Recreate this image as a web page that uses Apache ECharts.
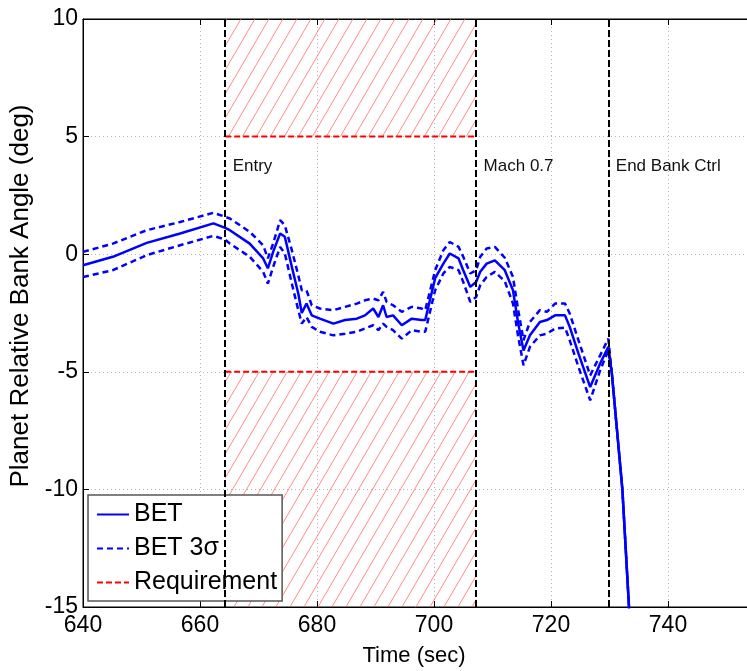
<!DOCTYPE html>
<html>
<head>
<meta charset="utf-8">
<script src="https://cdn.jsdelivr.net/npm/echarts@6/dist/echarts.min.js"></script>
<style>
html,body{margin:0;padding:0;background:#fff;}
#chart{width:747px;height:671px;}
</style>
</head>
<body>
<div id="chart"></div>
<script>
// ---- data ----
var times = [640, 645.1, 650.9, 656.6, 662.3, 664.3, 665.1, 668.5, 670.8, 671.6, 672.5, 673.7, 674.5, 675.7, 676.8, 677.4, 678.2, 679.1, 680.5, 682.8, 684.8, 686.8, 688.2, 689.6, 690.5, 691.3, 691.9, 693.0, 694.5, 696.2, 697.9, 698.5, 700.2, 701.6, 702.7, 704.2, 705.0, 706.2, 707.2, 707.9, 709.0, 710.4, 712.1, 713.5, 714.4, 715.3, 716.4, 718.1, 719.3, 720.7, 722.4, 723.2, 724.7, 726.7, 728.4, 729.8, 730.4, 732.2, 733.4];
var betMean = [-0.47, -0.11, 0.48, 0.88, 1.31, 1.12, 1.02, 0.45, -0.18, -0.6, 0.1, 0.88, 0.74, -0.54, -1.67, -2.5, -2.1, -2.6, -2.74, -2.95, -2.8, -2.74, -2.6, -2.31, -2.67, -2.17, -2.67, -2.6, -3.02, -2.74, -2.8, -2.8, -1.02, -0.4, 0.03, -0.18, -0.68, -1.39, -1.18, -0.75, -0.4, -0.26, -0.68, -1.53, -2.95, -4.09, -3.45, -2.88, -2.8, -2.6, -2.6, -3.09, -4.23, -5.65, -4.65, -3.94, -5.06, -10, -15.3];
var betUpper = [0.1, 0.45, 1.02, 1.37, 1.76, 1.59, 1.52, 0.95, 0.38, -0.18, 0.45, 1.45, 1.23, 0.17, -0.9, -1.53, -1.53, -2.17, -2.31, -2.38, -2.24, -2.1, -1.96, -1.89, -1.96, -1.6, -2.03, -2.17, -2.45, -2.24, -2.31, -2.38, -0.68, 0.17, 0.52, 0.31, -0.11, -0.82, -0.68, -0.11, 0.24, 0.31, -0.15, -0.97, -2.38, -3.66, -2.88, -2.38, -2.45, -2.1, -2.1, -2.52, -3.66, -5.15, -4.3, -3.59, -5.06, -10, -15.3];
var betLower = [-0.97, -0.68, -0.04, 0.38, 0.78, 0.62, 0.45, -0.11, -0.75, -1.25, -0.54, 0.31, 0.03, -1.25, -2.38, -2.95, -2.67, -3.09, -3.3, -3.45, -3.38, -3.3, -3.16, -3.02, -3.23, -2.95, -3.09, -3.23, -3.59, -3.23, -3.3, -3.3, -1.53, -0.82, -0.54, -0.68, -1.18, -2.03, -1.82, -1.32, -0.97, -0.75, -1.15, -2.1, -3.52, -4.72, -3.94, -3.45, -3.38, -3.16, -3.12, -3.66, -4.8, -6.21, -4.94, -4.09, -5.06, -10, -15.3];
var reqStart = 664.3, reqEnd = 707.2;
var reqUpper = 5, reqLower = -5;
var eventTimes = [664.3, 707.2, 729.8];
var eventNames = ['Entry', 'Mach 0.7', 'End Bank Ctrl'];
var eventLabelY = 3.75;
var xMin = 640, xMax = 760, xStep = 20;
var yMin = -15, yMax = 10, yStep = 5;

function zip(xs, ys) { return xs.map(function (x, i) { return [x, ys[i]]; }); }

// hatch pattern
var pat = document.createElement('canvas');
pat.width = 14; pat.height = 24;
var pc = pat.getContext('2d');
pc.strokeStyle = 'rgba(255,100,100,0.75)';
pc.lineWidth = 1;
[-14, 0, 14].forEach(function (o) {
  pc.beginPath(); pc.moveTo(o, 24); pc.lineTo(o + 14, 0); pc.stroke();
});

var FONT = 'Liberation Sans, Arial, Helvetica, sans-serif';
var chart = echarts.init(document.getElementById('chart'), null, {renderer: 'canvas'});

var splitDotted = {show: true, lineStyle: {color: '#b5b5b5', width: 1, type: [1, 3]}};

var option = {
  animation: false,
  backgroundColor: '#fff',
  grid: {left: 83, top: 19, right: -38, bottom: 64, outerBoundsMode: 'none', containLabel: false,
         show: true, borderColor: '#000', borderWidth: 1, backgroundColor: 'transparent'},
  legend: {
    data: ['BET', 'BET 3σ', 'Requirement'],
    orient: 'vertical', left: 88, top: 495,
    backgroundColor: '#fff', borderColor: '#555', borderWidth: 1.5, borderRadius: 0,
    padding: [7, 5, 6, 8], itemGap: 9, itemWidth: 32, itemHeight: 14,
    textStyle: {fontFamily: FONT, fontSize: 25, color: '#000'},
    itemStyle: {color: 'rgba(0,0,0,0)', borderWidth: 0, opacity: 0},
    lineStyle: {width: 2}
  },
  xAxis: [{
    type: 'value', min: xMin, max: xMax, interval: xStep, position: 'bottom',
    name: 'Time (sec)', nameLocation: 'middle', nameGap: 38,
    nameTextStyle: {fontFamily: FONT, fontSize: 22, color: '#000', padding: [0, 40, 0, 0]},
    axisLine: {show: true, onZero: false, lineStyle: {color: '#000'}},
    axisTick: {show: true, inside: true, length: 6, lineStyle: {color: '#000'}},
    axisLabel: {fontFamily: FONT, fontSize: 23, color: '#000', margin: 7},
    splitLine: splitDotted
  }, {
    type: 'value', min: xMin, max: xMax, interval: xStep, position: 'top',
    axisLine: {show: true, onZero: false, lineStyle: {color: '#000'}},
    axisTick: {show: true, inside: true, length: 6, lineStyle: {color: '#000'}},
    axisLabel: {show: false}, splitLine: {show: false}
  }],
  yAxis: [{
    type: 'value', min: yMin, max: yMax, interval: yStep, position: 'left',
    name: 'Planet Relative Bank Angle (deg)', nameLocation: 'middle', nameGap: 42,
    nameTextStyle: {fontFamily: FONT, fontSize: 26, color: '#000', padding: [0, 0, 0, 34]},
    axisLine: {show: true, onZero: false, lineStyle: {color: '#000'}},
    axisTick: {show: true, inside: true, length: 6, lineStyle: {color: '#000'}},
    axisLabel: {fontFamily: FONT, fontSize: 23, color: '#000', margin: 5},
    splitLine: splitDotted
  }],
  series: [
    {
      name: 'Requirement', type: 'line', symbol: 'none', z: 2,
      data: [[reqStart, reqUpper], [reqEnd, reqUpper]],
      lineStyle: {color: '#ff0000', width: 2, type: [6, 3]},
      itemStyle: {color: '#ff0000'},
      markArea: {
        silent: true,
        itemStyle: {color: {image: pat, repeat: 'repeat'}},
        data: [
          [{xAxis: reqStart, yAxis: reqUpper}, {xAxis: reqEnd, yAxis: yMax}],
          [{xAxis: reqStart, yAxis: yMin}, {xAxis: reqEnd, yAxis: reqLower}]
        ]
      }
    },
    {
      name: 'Requirement', type: 'line', symbol: 'none', z: 2,
      data: [[reqStart, reqLower], [reqEnd, reqLower]],
      lineStyle: {color: '#ff0000', width: 2, type: [6, 3]},
      itemStyle: {color: '#ff0000'}
    },
    {
      name: 'BET 3σ', type: 'line', symbol: 'none', z: 3,
      data: zip(times, betUpper),
      lineStyle: {color: '#0000ff', width: 2.5, type: [6, 4]},
      itemStyle: {color: '#0000ff'}
    },
    {
      name: 'BET 3σ', type: 'line', symbol: 'none', z: 3,
      data: zip(times, betLower),
      lineStyle: {color: '#0000ff', width: 2.5, type: [6, 4]},
      itemStyle: {color: '#0000ff'}
    },
    {
      name: 'BET', type: 'line', symbol: 'none', z: 4,
      data: zip(times, betMean),
      lineStyle: {color: '#0000ff', width: 2.5},
      itemStyle: {color: '#0000ff'}
    },
    {
      name: 'events', type: 'line', symbol: 'none', z: 5, data: [],
      markLine: {
        silent: true, symbol: ['none', 'none'],
        label: {show: false},
        lineStyle: {color: '#000', width: 2, type: [7, 3]},
        data: eventTimes.map(function (t) { return {xAxis: t}; })
      },
      markPoint: {
        silent: true, symbol: 'rect', symbolSize: 1,
        itemStyle: {color: 'rgba(0,0,0,0)'},
        label: {show: true, position: 'right', distance: 7, formatter: '{b}',
                fontFamily: FONT, fontSize: 17, color: '#111'},
        data: eventTimes.map(function (t, i) { return {name: eventNames[i], coord: [t, eventLabelY]}; })
      }
    }
  ]
};
chart.setOption(option);
</script>
</body>
</html>
